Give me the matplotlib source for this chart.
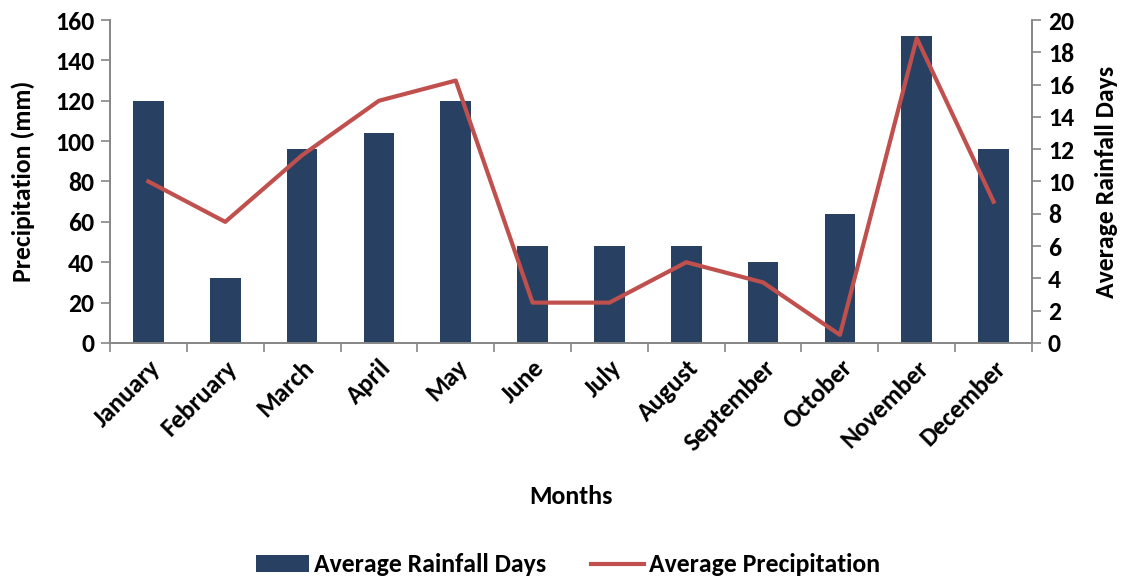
import numpy as np
import matplotlib.pyplot as plt

plt.rcParams['font.family'] = ['Carlito', 'DejaVu Sans']
plt.rcParams['font.weight'] = 'bold'

months = ['January', 'February', 'March', 'April', 'May', 'June', 'July',
          'August', 'September', 'October', 'November', 'December']
rain_days = [15, 4, 12, 13, 15, 6, 6, 6, 5, 8, 19, 12]
precip_mm = [80, 60, 93, 120, 130, 20, 20, 40, 30, 4, 151, 70]

bar_color = '#284162'
line_color = '#C0504D'
axis_gray = '#868686'
fs = 18.5

fig = plt.figure(figsize=(11.24, 5.82), dpi=100)
ax = fig.add_axes([110 / 1124, 1 - 343 / 582, (1032 - 110) / 1124, (343 - 20) / 582])
ax2 = ax.twinx()

x = np.arange(len(months))
bars = ax2.bar(x, rain_days, width=0.4, color=bar_color, label='Average Rainfall Days', zorder=1)
ax.set_zorder(ax2.get_zorder() + 1)
ax.patch.set_visible(False)
line, = ax.plot(x, precip_mm, color=line_color, linewidth=3, label='Average Precipitation')

ax.set_xlim(-0.5, len(months) - 0.5)
ax.set_ylim(0, 160)
ax.set_yticks(range(0, 161, 20))
ax2.set_ylim(0, 20)
ax2.set_yticks(range(0, 21, 2))

ax.set_xticks(x)
ax.set_xticklabels(months, rotation=45, ha='right', rotation_mode='anchor',
                   fontsize=fs, fontweight='bold')
ax.set_xticks(np.arange(-0.5, len(months)), minor=True)
ax.tick_params(axis='x', which='major', length=0, pad=9)
ax.tick_params(axis='x', which='minor', length=6.5, width=1.2, color=axis_gray)

for a in (ax, ax2):
    a.tick_params(axis='y', length=6.5, width=1.2, color=axis_gray, labelsize=fs, pad=5)
    for lbl in a.get_yticklabels():
        lbl.set_fontweight('bold')
    for s in a.spines.values():
        s.set_color(axis_gray)
        s.set_linewidth(1.2)
    a.spines['top'].set_visible(False)

ax.set_ylabel('Precipitation (mm)', fontsize=fs, fontweight='bold', labelpad=14)
ax2.set_ylabel('Average Rainfall Days', fontsize=fs, fontweight='bold', labelpad=15)
ax.set_xlabel('Months', fontsize=fs, fontweight='bold', labelpad=22)

fig.legend(handles=[bars, line], loc='center', bbox_to_anchor=(568 / 1124, 1 - 565 / 582), ncol=2,
           frameon=False, prop={'size': fs, 'weight': 'bold'}, handlelength=2.05,
           handleheight=0.6, columnspacing=1.75, handletextpad=0.2,
           borderpad=0, borderaxespad=0)

fig.savefig('out.png', dpi=100)
